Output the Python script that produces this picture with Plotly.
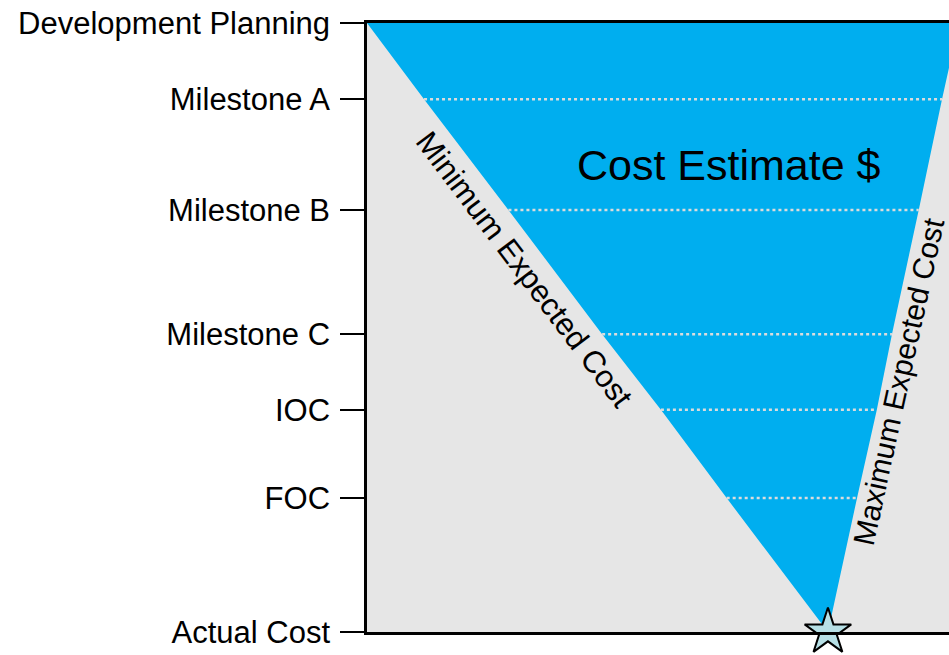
import plotly.graph_objects as go

# ---- data ----
milestones = ["Development Planning", "Milestone A", "Milestone B", "Milestone C",
              "IOC", "FOC", "Actual Cost"]
milestone_pos = [0, 12.5, 30.7, 51.1, 63.5, 78.0, 100]
min_cost = [0, 9.8, 24.3, 40.4, 50.5, 61.8, 79.2]
max_cost = [101.7, 98.8, 94.8, 90.2, 87.6, 84.2, 79.2]
actual_cost = 79.2

BLUE = "#00AEEF"
GRAY = "#E6E6E6"
FONT = "Arial, Liberation Sans, sans-serif"

fig = go.Figure()

# cost estimate cone
fig.add_trace(go.Scatter(
    x=min_cost + max_cost[::-1],
    y=milestone_pos + milestone_pos[::-1],
    fill="toself", fillcolor=BLUE, mode="none", hoverinfo="skip", showlegend=False))

# dotted milestone lines
for i in range(1, len(milestones) - 1):
    fig.add_trace(go.Scatter(
        x=[min_cost[i], max_cost[i]], y=[milestone_pos[i], milestone_pos[i]],
        mode="lines", line=dict(color="#DCDCDC", width=2.5, dash="dot"),
        hoverinfo="skip", showlegend=False))

# actual cost star
fig.add_trace(go.Scatter(
    x=[actual_cost], y=[milestone_pos[-1]], mode="markers",
    marker=dict(symbol="star", size=35, color="#B7E0E6",
                line=dict(color="black", width=2)),
    cliponaxis=False, showlegend=False, hoverinfo="skip"))

fig.add_annotation(x=62.2, y=23.3, text="Cost Estimate $", showarrow=False,
                   font=dict(family=FONT, size=43, color="black"))
fig.add_annotation(x=27, y=40.5, text="Minimum Expected Cost", showarrow=False,
                   textangle=52.9, font=dict(family=FONT, size=31, color="black"))
fig.add_annotation(x=91.3, y=58.8, text="Maximum Expected Cost", showarrow=False,
                   textangle=-77.7, font=dict(family=FONT, size=30, color="black"))

fig.update_layout(
    width=949, height=655,
    margin=dict(l=367, r=0, t=23, b=23),
    paper_bgcolor="white", plot_bgcolor=GRAY,
    font=dict(family=FONT, color="black"),
    xaxis=dict(range=[0, 100], showgrid=False, zeroline=False, showticklabels=False,
               showline=True, linecolor="black", linewidth=2.5, mirror=True, ticks=""),
    yaxis=dict(range=[100, 0], showgrid=False, zeroline=False,
               tickvals=milestone_pos, ticktext=milestones,
               ticks="outside", ticklen=24, tickwidth=2, tickcolor="black",
               tickfont=dict(family=FONT, size=31, color="black"),
               ticklabelstandoff=4,
               showline=True, linecolor="black", linewidth=2.5),
)

fig.write_html("out.html")
